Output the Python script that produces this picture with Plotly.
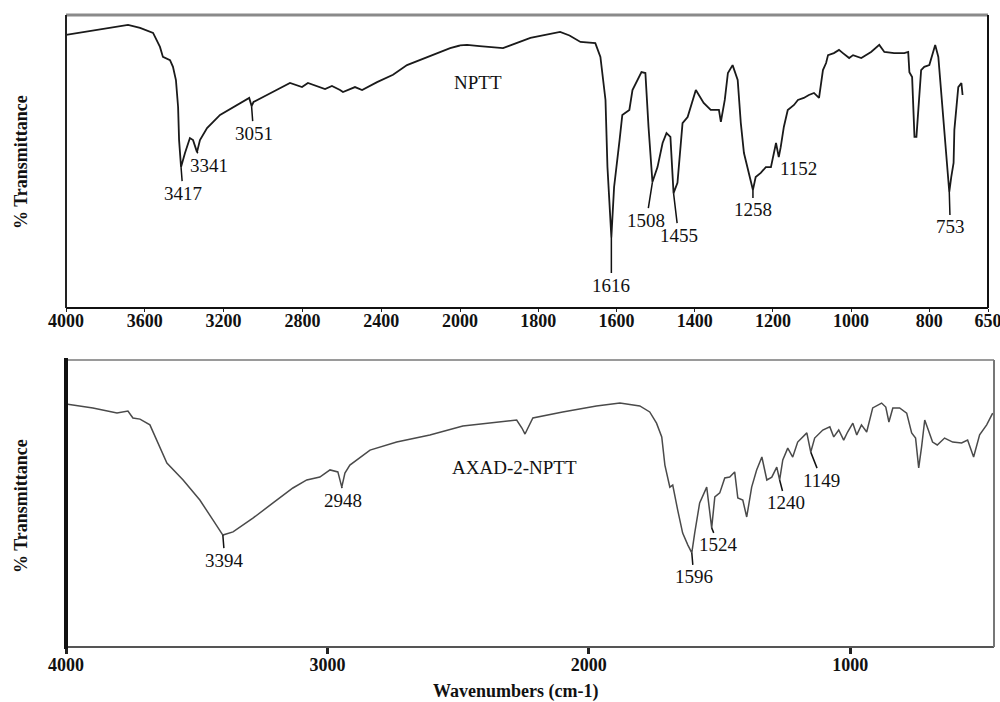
import plotly.graph_objects as go

# ---------------- data ----------------
# NPTT spectrum (top panel): wavenumber (cm-1) and % transmittance
npt_wn = [4000, 3850, 3685, 3624, 3558, 3523, 3508, 3472, 3457, 3442, 3431, 3426, 3416,
          3396, 3371, 3355, 3335, 3320, 3284, 3218, 3152, 3091, 3070, 3058, 3048, 2980,
          2863, 2802, 2772, 2685, 2650, 2609, 2594, 2533, 2497, 2421, 2340, 2269, 2117,
          2050, 2000, 1982, 1950, 1915, 1890, 1820, 1744, 1720, 1692, 1654, 1641, 1628,
          1623, 1613, 1606, 1592, 1585, 1567, 1559, 1536, 1526, 1518, 1508, 1495, 1482,
          1472, 1462, 1454, 1444, 1431, 1418, 1397, 1377, 1359, 1338, 1333, 1323, 1315,
          1303, 1290, 1282, 1274, 1262, 1251, 1244, 1231, 1218, 1205, 1192, 1185, 1180,
          1172, 1162, 1146, 1136, 1121, 1108, 1095, 1082, 1072, 1064, 1059, 1044, 1031,
          1021, 1005, 995, 974, 949, 928, 915, 890, 864, 854, 851, 844, 838, 833, 821,
          813, 800, 790, 785, 777, 769, 762, 751, 749, 744, 738, 736, 726, 718, 715]
npt_T = [93.2, 94.9, 96.6, 95.6, 93.9, 89.1, 85.7, 84.6, 82.3, 77.8, 68.6, 57.3, 48.1,
         52.9, 58.0, 57.3, 53.2, 57.3, 61.4, 65.9, 68.6, 71.0, 71.7, 68.9, 70.3, 72.7,
         76.8, 75.4, 76.8, 74.7, 75.8, 74.4, 73.7, 75.4, 74.4, 77.1, 79.6, 82.9, 87.0,
         88.7, 89.6, 89.8, 89.4, 89.1, 88.7, 92.2, 94.2, 93.0, 90.8, 90.4, 85.7, 71.0,
         48.1, 24.2, 41.3, 57.3, 65.9, 67.6, 74.4, 80.5, 80.2, 61.8, 43.0, 48.1, 56.3,
         59.7, 58.4, 39.2, 42.7, 63.1, 65.2, 74.4, 70.0, 67.6, 67.6, 63.5, 71.0, 80.2,
         82.9, 77.8, 63.1, 52.9, 46.1, 40.3, 44.7, 46.1, 48.1, 48.1, 56.3, 51.5, 54.9,
         61.8, 67.6, 69.3, 71.0, 71.7, 72.7, 73.4, 71.7, 81.2, 83.6, 86.3, 87.0, 88.1,
         87.0, 85.3, 86.3, 85.3, 87.4, 89.8, 87.4, 87.0, 87.0, 87.4, 80.5, 78.8, 58.4,
         58.4, 81.2, 82.3, 82.9, 88.1, 89.8, 85.7, 72.0, 59.7, 42.7, 39.6, 44.7, 49.5,
         60.8, 75.4, 76.8, 72.7]

npt_peak_wn = [3416, 3335, 3058, 1613, 1508, 1454, 1251, 1185, 749]
npt_peak_T = [48.1, 53.2, 68.9, 24.2, 43.0, 39.2, 40.3, 51.5, 39.6]
npt_peak_lbl = ["3417", "3341", "3051", "1616", "1508", "1455", "1258", "1152", "753"]

# AXAD-2-NPTT spectrum (bottom panel)
axd_wn = [4000, 3897, 3805, 3763, 3744, 3717, 3679, 3652, 3614, 3552, 3488, 3438, 3400,
          3361, 3285, 3208, 3132, 3079, 3029, 2990, 2960, 2945, 2933, 2914, 2887, 2837,
          2735, 2608, 2482, 2352, 2276, 2256, 2244, 2233, 2214, 2100, 1971, 1881, 1805,
          1767, 1741, 1721, 1709, 1690, 1679, 1660, 1641, 1621, 1606, 1595, 1576, 1549,
          1537, 1530, 1518, 1499, 1480, 1461, 1442, 1430, 1411, 1396, 1377, 1358, 1338,
          1319, 1300, 1281, 1270, 1258, 1239, 1220, 1201, 1182, 1166, 1151, 1136, 1105,
          1078, 1063, 1044, 1025, 1010, 990, 975, 957, 937, 914, 880, 864, 852, 837, 811,
          784, 765, 750, 738, 727, 715, 704, 685, 667, 639, 608, 574, 551, 528, 505, 478,
          455]
axd_T = [84.7, 83.3, 81.5, 82.2, 79.8, 79.4, 77.4, 72.1, 64.1, 58.2, 51.2, 44.3, 39.0,
         40.1, 44.9, 50.2, 55.4, 58.2, 59.2, 61.7, 61.0, 55.7, 60.6, 63.4, 65.2, 68.6,
         71.4, 73.9, 77.0, 78.4, 79.1, 76.3, 74.2, 76.3, 79.8, 81.9, 84.0, 85.0, 84.0,
         81.9, 78.0, 73.2, 63.4, 55.7, 56.4, 47.7, 39.7, 35.5, 32.8, 39.7, 50.2, 55.7,
         47.7, 41.5, 52.3, 53.7, 58.9, 59.2, 61.0, 51.9, 51.2, 45.3, 55.7, 61.7, 66.2,
         58.2, 59.2, 62.7, 58.2, 65.2, 69.3, 66.2, 71.4, 73.2, 74.6, 67.9, 72.8, 75.6,
         76.7, 73.2, 75.6, 72.1, 74.9, 78.0, 73.9, 77.4, 74.9, 83.3, 85.0, 83.6, 78.4,
         83.3, 83.3, 81.5, 74.6, 72.8, 62.4, 69.7, 79.1, 76.3, 71.4, 70.4, 72.8, 71.4,
         71.1, 72.1, 66.2, 73.9, 77.4, 81.5]

axd_peak_wn = [3400, 2945, 1606, 1530, 1270, 1151]
axd_peak_T = [39.0, 55.7, 32.8, 41.5, 58.2, 67.9]
axd_peak_lbl = ["3394", "2948", "1596", "1524", "1240", "1149"]

top_ticks_a = [4000, 3600, 3200, 2800, 2400]
top_ticks_b = [2000, 1800, 1600, 1400, 1200, 1000, 800, 650]
bot_ticks = [4000, 3000, 2000, 1000]

# ---------------- styling ----------------
SERIF = "Liberation Serif, Times New Roman, serif"
W, H = 1000, 702


def px(x):
    return x / W


def py(y):
    return 1 - y / H


top_label_off = [(2, 26), (12, 13), (2, 27), (0, 48), (-6, 38), (5, 42), (0, 20), (20, 11), (1, 35)]
bot_label_off = [(2, 25), (1, 13), (2, 24), (7, 17), (6, 23), (11, 28)]

fig = go.Figure()

# top panel, split at 2000 cm-1 (scale change)
wa = [w for w in npt_wn if w >= 2000]
ta = [t for w, t in zip(npt_wn, npt_T) if w >= 2000]
wb = [w for w in npt_wn if w <= 2000]
tb = [t for w, t in zip(npt_wn, npt_T) if w <= 2000]
line_top = dict(color="#1a1a1a", width=1.8)
fig.add_trace(go.Scatter(x=wa, y=ta, mode="lines", line=line_top, xaxis="x", yaxis="y",
                         showlegend=False, hoverinfo="skip"))
fig.add_trace(go.Scatter(x=wb, y=tb, mode="lines", line=line_top, xaxis="x2", yaxis="y",
                         showlegend=False, hoverinfo="skip"))

fig.add_trace(go.Scatter(x=axd_wn, y=axd_T, mode="lines", line=dict(color="#4a4a4a", width=1.5),
                         xaxis="x3", yaxis="y2", showlegend=False, hoverinfo="skip"))

annots = []
lbl_font = dict(family=SERIF, size=19, color="#111")
for (w, t, s), (ax, ay) in zip(zip(npt_peak_wn, npt_peak_T, npt_peak_lbl), top_label_off):
    annots.append(dict(x=w, y=t, xref="x" if w > 2000 else "x2", yref="y", text=s,
                       showarrow=True, arrowhead=0, arrowwidth=1.5, arrowcolor="#111",
                       ax=ax, ay=ay, standoff=0, font=lbl_font))
for (w, t, s), (ax, ay) in zip(zip(axd_peak_wn, axd_peak_T, axd_peak_lbl), bot_label_off):
    annots.append(dict(x=w, y=t, xref="x3", yref="y2", text=s,
                       showarrow=True, arrowhead=0, arrowwidth=1.5, arrowcolor="#111",
                       ax=ax, ay=ay, standoff=0, font=lbl_font))

title_font = dict(family=SERIF, size=18, color="#111", weight="bold")
annots += [
    dict(x=px(478), y=py(83), xref="paper", yref="paper", text="NPTT", showarrow=False,
         xanchor="center", yanchor="middle", font=dict(family=SERIF, size=19, color="#111")),
    dict(x=px(514), y=py(467), xref="paper", yref="paper", text="AXAD-2-NPTT", showarrow=False,
         xanchor="center", yanchor="middle", font=dict(family=SERIF, size=19, color="#111")),
    dict(x=px(21), y=py(162), xref="paper", yref="paper", text="% Transmittance",
         textangle=-90, showarrow=False, xanchor="center", yanchor="middle", font=title_font),
    dict(x=px(21), y=py(506), xref="paper", yref="paper", text="% Transmittance",
         textangle=-90, showarrow=False, xanchor="center", yanchor="middle", font=title_font),
    dict(x=px(515), y=py(691), xref="paper", yref="paper", text="Wavenumbers (cm-1)",
         showarrow=False, xanchor="center", yanchor="middle", font=title_font),
]

# frames
shapes = []
def seg(x0, y0, x1, y1, color, width):
    shapes.append(dict(type="line", xref="paper", yref="paper", x0=px(x0), y0=py(y0),
                       x1=px(x1), y1=py(y1), line=dict(color=color, width=width)))

# top panel frame
seg(66, 15, 988, 15, "#8a8a8a", 3)
seg(66, 308, 988, 308, "#111", 2)
seg(66, 15, 66, 308, "#222", 2)
seg(988, 15, 988, 308, "#111", 2)
# bottom panel frame
seg(66, 360, 994, 360, "#9a9a9a", 2)
seg(66, 647, 994, 647, "#555", 2)
seg(66, 358, 66, 649, "#111", 4)
seg(994, 360, 994, 647, "#777", 2)

tickfont = dict(family=SERIF, size=18, color="#111", weight="bold")
common_x = dict(showgrid=False, zeroline=False, showline=False, ticks="outside",
                tickcolor="#222", tickfont=tickfont, fixedrange=True,
                ticklabeloverflow="allow", automargin=False)

fig.update_layout(
    width=W, height=H,
    margin=dict(l=0, r=0, t=0, b=0, pad=0, autoexpand=False),
    paper_bgcolor="white", plot_bgcolor="white",
    font=dict(family=SERIF, color="#111"),
    showlegend=False,
    xaxis=dict(domain=[px(66), px(460)], range=[4000, 2000], anchor="y",
               tickvals=top_ticks_a, ticktext=[str(v) for v in top_ticks_a],
               ticklen=3, tickwidth=1, ticklabelstandoff=-7, **common_x),
    xaxis2=dict(domain=[px(460), px(988)], range=[2000, 650], anchor="y",
                tickvals=top_ticks_b, ticktext=[str(v) for v in top_ticks_b],
                ticklen=3, tickwidth=1, ticklabelstandoff=-7, **common_x),
    yaxis=dict(domain=[py(308), py(15)], range=[0, 100], anchor="x", showgrid=False,
               zeroline=False, showticklabels=False, showline=False, fixedrange=True,
               automargin=False),
    xaxis3=dict(domain=[px(66), px(994)], range=[4000, 450], anchor="y2",
                tickvals=bot_ticks, ticktext=[str(v) for v in bot_ticks],
                ticklen=6, tickwidth=3, ticklabelstandoff=-5, **common_x),
    yaxis2=dict(domain=[py(647), py(360)], range=[0, 100], anchor="x3", showgrid=False,
                zeroline=False, showticklabels=False, showline=False, fixedrange=True,
                automargin=False),
    annotations=annots,
    shapes=shapes,
)

fig.write_html("out.html")
